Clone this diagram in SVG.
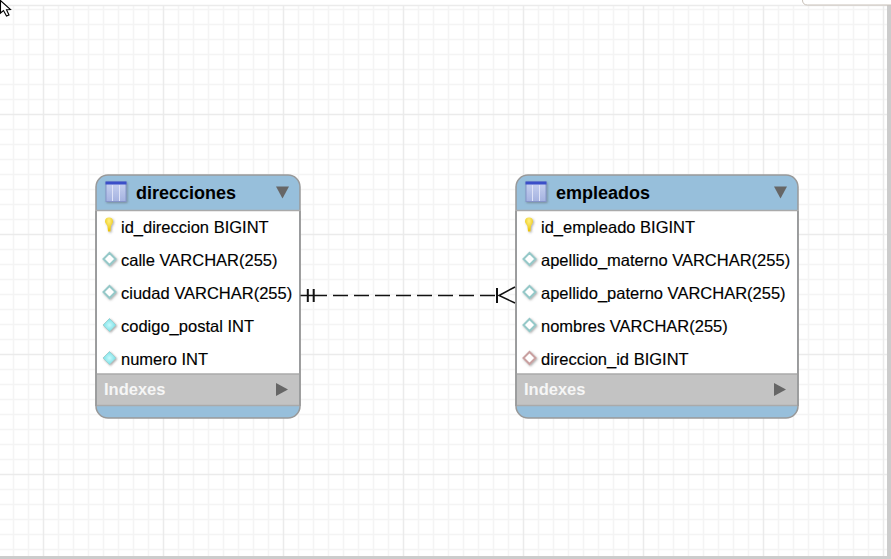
<svg xmlns="http://www.w3.org/2000/svg" width="891" height="559" viewBox="0 0 891 559">
<defs>
<style>
.t{font-family:"Liberation Sans",Arial,sans-serif;font-size:16.5px;fill:#000;stroke:#000;stroke-width:0.150}
.h{font-family:"Liberation Sans",Arial,sans-serif;font-size:18px;font-weight:bold;fill:#000}
.i{font-family:"Liberation Sans",Arial,sans-serif;font-size:16.5px;font-weight:bold;fill:#f6f6f6}
.minor{stroke:#f4f4f4;stroke-width:1.500;fill:none}
.major{stroke:#ebebeb;stroke-width:1.500;fill:none}
.tri{fill:#666}
.box{stroke:#999;stroke-width:1.500;fill:#97bfdb}
.edge{stroke:#999;stroke-width:1.500;fill:none}
.sep{stroke:#aaa;stroke-width:1.500;fill:none}
.line{stroke:#111;fill:none}
</style>
<filter id="soft" x="-30%" y="-30%" width="170%" height="170%"><feDropShadow dx="1" dy="1" stdDeviation="0.800" flood-color="#555" flood-opacity="0.500"/></filter>
<linearGradient id="icon" x1="0" y1="0" x2="0" y2="1"><stop offset="0" stop-color="#c8d2f0"/><stop offset="1" stop-color="#a4b2e0"/></linearGradient>
<radialGradient id="key" cx="0.5" cy="0.25" r="0.75"><stop offset="0" stop-color="#fff080"/><stop offset="1" stop-color="#e8c000"/></radialGradient>
<radialGradient id="fillDia" cx="0.5" cy="0.5" r="0.5"><stop offset="0" stop-color="#c8fafc"/><stop offset="1" stop-color="#78dfe6"/></radialGradient>
<g id="tableIcon">
<rect x="0" y="0" width="20" height="19.500" fill="url(#icon)" stroke="#8594c8" filter="url(#soft)"/>
<rect x="-0.500" y="-0.500" width="21" height="3" fill="#3b4fc8"/>
<path d="M6.500 3V19M13.500 3V19" stroke="#dfe4f8" stroke-width="1"/>
</g>
<g id="keyIcon">
<path d="M-4 -3.500a4 4 0 0 1 8 0c0 2-1.700 3-2 4.500l-0.500 5.500h-2.500l-0.600-5.500c-0.300-1.500-2.400-2.500-2.400-4.500z" fill="url(#key)" filter="url(#soft)"/>
</g>
<g id="diaOpen"><path d="M0 -6L6 0L0 6L-6 0Z" fill="#fff" stroke="#95c8c8" stroke-width="2" filter="url(#soft)"/></g>
<g id="diaFill"><path d="M0 -6.500L6.500 0L0 6.500L-6.500 0Z" fill="url(#fillDia)" stroke="#a0d0d0" stroke-width="1" filter="url(#soft)"/></g>
<g id="diaFk"><path d="M0 -6L6 0L0 6L-6 0Z" fill="#fff" stroke="#c9a0a0" stroke-width="2" filter="url(#soft)"/></g>
</defs>
<rect width="891" height="559" fill="#fff"/>
<g id="grid">
<path class="minor" d="M0 9.500H887M0 24.500H887M0 39.500H887M0 54.500H887M0 69.500H887M0 84.500H887M0 99.500H887M0 129.500H887M0 144.500H887M0 159.500H887M0 174.500H887M0 189.500H887M0 204.500H887M0 219.500H887M0 249.500H887M0 264.500H887M0 279.500H887M0 294.500H887M0 309.500H887M0 324.500H887M0 339.500H887M0 369.500H887M0 384.500H887M0 399.500H887M0 414.500H887M0 429.500H887M0 444.500H887M0 459.500H887M0 489.500H887M0 504.500H887M0 519.500H887M0 534.500H887M0 549.500H887"/>
<path class="minor" d="M13.500 5V556M28.500 5V556M58.500 5V556M73.500 5V556M88.500 5V556M103.500 5V556M118.500 5V556M133.500 5V556M148.500 5V556M178.500 5V556M193.500 5V556M208.500 5V556M223.500 5V556M238.500 5V556M253.500 5V556M268.500 5V556M298.500 5V556M313.500 5V556M328.500 5V556M343.500 5V556M358.500 5V556M373.500 5V556M388.500 5V556M418.500 5V556M433.500 5V556M448.500 5V556M463.500 5V556M478.500 5V556M493.500 5V556M508.500 5V556M538.500 5V556M553.500 5V556M568.500 5V556M583.500 5V556M598.500 5V556M613.500 5V556M628.500 5V556M658.500 5V556M673.500 5V556M688.500 5V556M703.500 5V556M718.500 5V556M733.500 5V556M748.500 5V556M778.500 5V556M793.500 5V556M808.500 5V556M823.500 5V556M838.500 5V556M853.500 5V556M868.500 5V556"/>
<path class="major" d="M0 5.500H887M0 114.500H887M0 234.500H887M0 354.500H887M0 474.500H887M43.500 5V556M163.500 5V556M283.500 5V556M403.500 5V556M523.500 5V556M643.500 5V556M763.500 5V556M883.500 5V556"/>
<rect x="0" y="556" width="891" height="3" fill="#cccccc"/>
<rect x="887" y="5" width="4" height="554" fill="#cccccc"/>
<path d="M802.500 0c0 3 1.500 5 5 5H891" fill="#fff" stroke="#c8c0b8"/>
<path d="M0.500 0.500V13L3.500 10.500L6.500 16L9 15L6.500 9.800L10.500 9.500Z" fill="#fff" stroke="#000" stroke-width="1.100"/>
</g>
<g id="direcciones">
<rect class="box" x="96" y="175" width="204" height="243" rx="12"/>
<rect x="97" y="211" width="202" height="163" fill="#fff"/>
<rect x="96.750" y="374" width="202.500" height="32" fill="#c3c3c3"/>
<path class="sep" d="M96 210.500H300M96 374H300M96 405.500H300"/>
<path class="edge" d="M96 211V406M300 211V406"/>
<use href="#tableIcon" x="106" y="182"/>
<text class="h" x="136" y="199">direcciones</text>
<path class="tri" d="M276 186.500H289L282.500 198.500Z"/>
<use href="#keyIcon" x="109" y="225"/>
<text class="t" x="121" y="233">id_direccion BIGINT</text>
<use href="#diaOpen" x="109.500" y="259"/>
<text class="t" x="121" y="266">calle VARCHAR(255)</text>
<use href="#diaOpen" x="109.500" y="292"/>
<text class="t" x="121" y="299">ciudad VARCHAR(255)</text>
<use href="#diaFill" x="109.500" y="325"/>
<text class="t" x="121" y="332">codigo_postal INT</text>
<use href="#diaFill" x="109.500" y="358"/>
<text class="t" x="121" y="365">numero INT</text>
<text class="i" x="104" y="395">Indexes</text>
<path class="tri" d="M276 383L288 389.500L276 396Z"/>
</g>
<g id="empleados">
<rect class="box" x="516" y="175" width="282" height="243" rx="12"/>
<rect x="517" y="211" width="280" height="163" fill="#fff"/>
<rect x="516.750" y="374" width="280.500" height="32" fill="#c3c3c3"/>
<path class="sep" d="M516 210.500H798M516 374H798M516 405.500H798"/>
<path class="edge" d="M516 211V406M798 211V406"/>
<use href="#tableIcon" x="526" y="182"/>
<text class="h" x="556" y="199">empleados</text>
<path class="tri" d="M774 186.500H787L780.500 198.500Z"/>
<use href="#keyIcon" x="529" y="225"/>
<text class="t" x="541" y="233">id_empleado BIGINT</text>
<use href="#diaOpen" x="529.500" y="259"/>
<text class="t" x="541" y="266">apellido_materno VARCHAR(255)</text>
<use href="#diaOpen" x="529.500" y="292"/>
<text class="t" x="541" y="299">apellido_paterno VARCHAR(255)</text>
<use href="#diaOpen" x="529.500" y="325"/>
<text class="t" x="541" y="332">nombres VARCHAR(255)</text>
<use href="#diaFk" x="529.500" y="358"/>
<text class="t" x="541" y="365">direccion_id BIGINT</text>
<text class="i" x="524" y="395">Indexes</text>
<path class="tri" d="M774 383L786 389.500L774 396Z"/>
</g>
<g id="connectors">
<path class="line" d="M300.500 295.500H327" stroke-width="1.500"/>
<path class="line" d="M333 295.500H497" stroke-width="1.500" stroke-dasharray="15 6"/>
<path class="line" d="M307.800 289V302M313.700 289V302M497 288V303" stroke-width="2"/>
<path class="line" d="M515 287L499 295.500L515 303" stroke-width="1.500"/>
</g>
</svg>
